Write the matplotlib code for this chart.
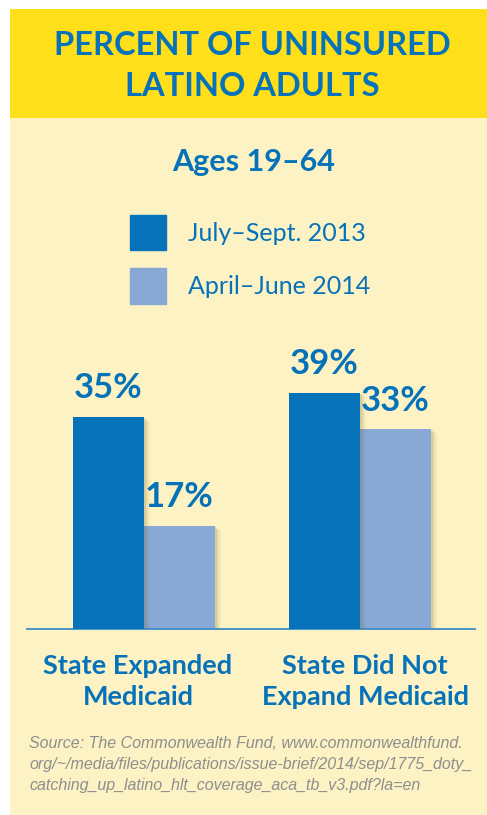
import matplotlib.pyplot as plt
import matplotlib.patches as mpatches
import matplotlib.patheffects as pe
import numpy as np

### ===========================================================================
# data
groups = ['State Expanded\nMedicaid', 'State Did Not\nExpand Medicaid']
series_names = ['July–Sept. 2013', 'April–June 2014']
jul_sep_2013 = [35, 39]
apr_jun_2014 = [17, 33]

title = 'PERCENT OF UNINSURED\nLATINO ADULTS'
subtitle = 'Ages 19–64'
source = ('Source: The Commonwealth Fund, www.commonwealthfund.\n'
          'org/~/media/files/publications/issue-brief/2014/sep/1775_doty_\n'
          'catching_up_latino_hlt_coverage_aca_tb_v3.pdf?la=en')

### ===========================================================================
W, H = 487, 815
BLUE = '#0672B9'
LIGHT = '#8AA8D6'
YELLOW = '#FFDE1A'
CREAM = '#FDF2C3'
GREY = '#8E8E8E'

plt.rcParams['font.family'] = ['Lato', 'DejaVu Sans']

fig = plt.figure(figsize=(W / 100, H / 100), dpi=100)
fig.patch.set_facecolor('white')


def fx(x):
    return x / W


def fy(y):
    return 1 - y / H


# panel background
fig.patches.append(mpatches.Rectangle((fx(10), fy(815)), fx(477), 706 / H,
                                      transform=fig.transFigure,
                                      facecolor=CREAM, edgecolor='none', zorder=-10))
fig.patches.append(mpatches.Rectangle((fx(10), fy(118)), fx(477), 109 / H,
                                      transform=fig.transFigure,
                                      facecolor=YELLOW, edgecolor='none', zorder=-10))

fig.text(fx(252), fy(66), title, ha='center', va='center', color=BLUE,
         fontsize=23.5, fontweight='bold', linespacing=1.5)
fig.text(fx(254), fy(162), subtitle, ha='center', va='center', color=BLUE,
         fontsize=22, fontweight='bold')

# bars
ax = fig.add_axes([fx(27), fy(629), fx(448), 272.7 / H])
ax.patch.set_alpha(0)
x = np.arange(len(groups))
w = 71 / 216

shadow = [pe.SimplePatchShadow(offset=(1.5, -1), shadow_rgbFace='#7a6a3a', alpha=0.16),
          pe.SimplePatchShadow(offset=(3, -2), shadow_rgbFace='#7a6a3a', alpha=0.10),
          pe.SimplePatchShadow(offset=(4.5, -3), shadow_rgbFace='#7a6a3a', alpha=0.06),
          pe.Normal()]

b2 = ax.bar(x + w / 2, apr_jun_2014, w, color=LIGHT, label=series_names[1],
            zorder=2, path_effects=shadow)
b1 = ax.bar(x - w / 2, jul_sep_2013, w, color=BLUE, label=series_names[0],
            zorder=3, path_effects=shadow)

for bars in (b1, b2):
    ax.bar_label(bars, labels=[f'{v}%' for v in bars.datavalues], padding=9,
                 color=BLUE, fontsize=25, fontweight='bold')

ax.set_xlim(-0.542, 1.532)
ax.set_ylim(0, 45)
for s in ['top', 'left', 'right']:
    ax.spines[s].set_visible(False)
ax.spines['bottom'].set_color('#3D8BC9')
ax.spines['bottom'].set_linewidth(1.3)
ax.set_yticks([])
ax.set_xticks([])

# category labels sit a little off the group centres in the original
label_shift = [-0.028, 0.023]
for xi, g, dx in zip(x, groups, label_shift):
    ax.annotate(g, xy=(xi + dx, 0), xycoords=('data', 'axes fraction'),
                xytext=(0, -18), textcoords='offset points', ha='center', va='top',
                color=BLUE, fontsize=19.5, fontweight='bold', linespacing=1.35)

# legend
handles = [mpatches.Patch(color=BLUE), mpatches.Patch(color=LIGHT)]
fig.legend(handles, series_names, loc='upper left',
           bbox_to_anchor=(fx(130), fy(215)), frameon=False, borderpad=0,
           borderaxespad=0, fontsize=18, handlelength=1.45, handleheight=1.8,
           handletextpad=0.85, labelspacing=0.72, labelcolor=BLUE)

fig.text(fx(29), fy(736), source, ha='left', va='top', color=GREY,
         fontsize=11.5, fontstyle='italic', family=['Liberation Sans', 'DejaVu Sans'],
         linespacing=1.5)

fig.savefig('out.png', dpi=100)
